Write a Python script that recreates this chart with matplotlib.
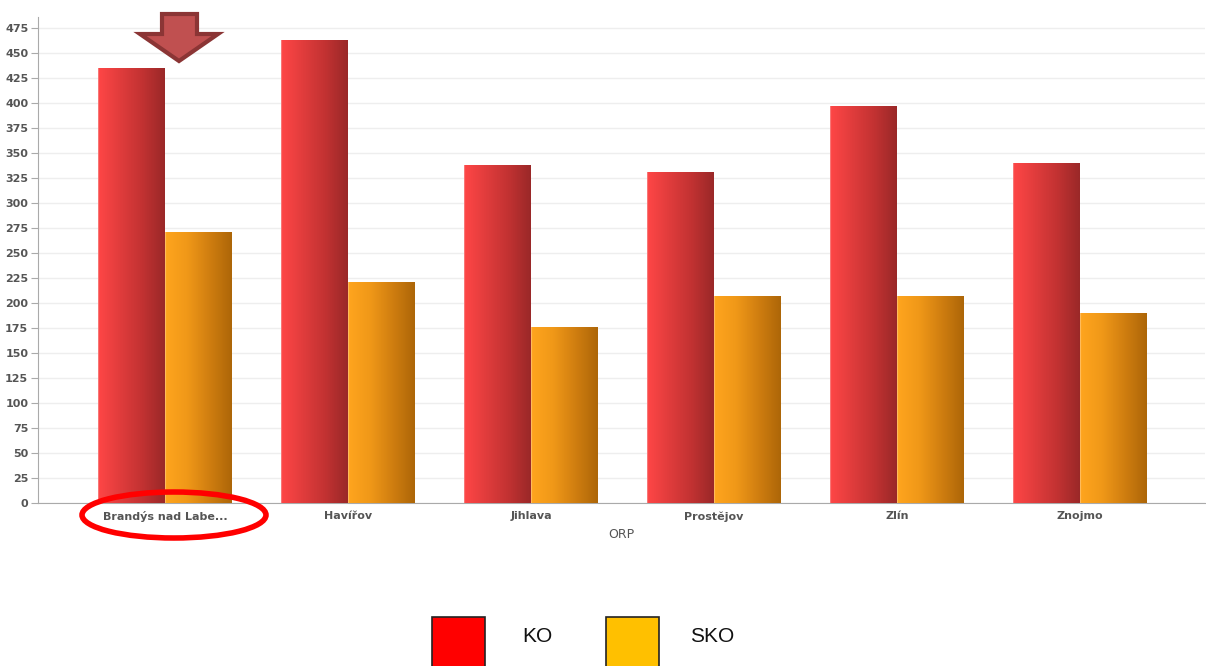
import numpy as np
import matplotlib.pyplot as plt
from matplotlib.patches import Ellipse, Polygon, Rectangle
from matplotlib.colors import LinearSegmentedColormap

categories = ["Brandýs nad Labe...", "Havířov", "Jihlava", "Prostějov", "Zlín", "Znojmo"]
ko = [435, 463, 338, 331, 397, 340]
sko = [271, 221, 176, 207, 207, 190]
yticks = list(range(0, 476, 25))

W, H = 1206, 666
fig = plt.figure(figsize=(W / 100, H / 100), dpi=100)
ax = fig.add_axes([38 / W, (H - 503) / H, (1205 - 38) / W, (503 - 17) / H])

x = np.arange(len(categories))
bw = 0.366

ko_cmap = LinearSegmentedColormap.from_list("ko", ["#f49a9a", "#ff4646", "#e03c3c", "#c23232", "#9a2828"])
sko_cmap = LinearSegmentedColormap.from_list("sko", ["#ffcc88", "#ffa51e", "#f09818", "#d07e10", "#ad6608"])

grad = np.linspace(0.25, 1, 256).reshape(1, -1)
grad[0, :4] = np.linspace(0, 0.2, 4)


def gradient_bars(bars, cmap):
    for b in bars:
        bx, by = b.get_x(), b.get_y()
        im = ax.imshow(grad, cmap=cmap, aspect="auto", zorder=3, vmin=0, vmax=1,
                       extent=(bx, bx + b.get_width(), by, by + b.get_height()),
                       interpolation="bilinear")
        im.set_clip_path(b)


b1 = ax.bar(x - bw / 2, ko, bw, color="none", zorder=3)
b2 = ax.bar(x + bw / 2, sko, bw, color="none", zorder=3)
gradient_bars(b1, ko_cmap)
gradient_bars(b2, sko_cmap)

ax.set_xlim(-0.694, 5.683)
ax.set_ylim(0, 486)
ax.set_yticks(yticks)
ax.set_xticks(x)
ax.set_xticklabels(categories)
for lbl in ax.get_xticklabels() + ax.get_yticklabels():
    lbl.set_fontweight("bold")
    lbl.set_color("#555555")
    lbl.set_fontsize(8)
    lbl.set_family("DejaVu Sans")
ax.tick_params(axis="y", length=5, color="#aaaaaa", pad=2)
ax.tick_params(axis="x", length=0, pad=6)
ax.grid(axis="y", color="#eeeeee", lw=1, zorder=0)
ax.set_axisbelow(True)
for s in ["top", "right"]:
    ax.spines[s].set_visible(False)
ax.spines["left"].set_color("#aaaaaa")
ax.spines["bottom"].set_color("#aaaaaa")
ax.set_xlabel("ORP", color="#555555", fontsize=9, labelpad=4)

# highlight arrow and ellipse (figure pixel coords)
px = lambda X, Y: (X / W, 1 - Y / H)
arrow = [px(162, 14), px(197, 14), px(197, 34), px(218, 34), px(179, 61), px(140, 34), px(162, 34)]
fig.patches.append(Polygon(arrow, closed=True, transform=fig.transFigure,
                           facecolor="#c05050", edgecolor="#8b3535", lw=3, zorder=10))
fig.patches.append(Ellipse(px(174, 515), 184 / W, 46 / H, transform=fig.transFigure,
                           fill=False, edgecolor="#ff0000", lw=4, zorder=10))

# legend
legend_items = [("KO", "#ff0000", 432, 537), ("SKO", "#ffc000", 606, 712)]
for name, col, sx, tx in legend_items:
    fig.patches.append(Rectangle(px(sx, 670), 53 / W, 53 / H, transform=fig.transFigure,
                                 facecolor=col, edgecolor="#222222", lw=1.2))
    fig.text(tx / W, 1 - 636 / H, name, ha="center", va="center", fontsize=15,
             family="Liberation Sans", color="#111111")

fig.savefig("out.png", dpi=100)
